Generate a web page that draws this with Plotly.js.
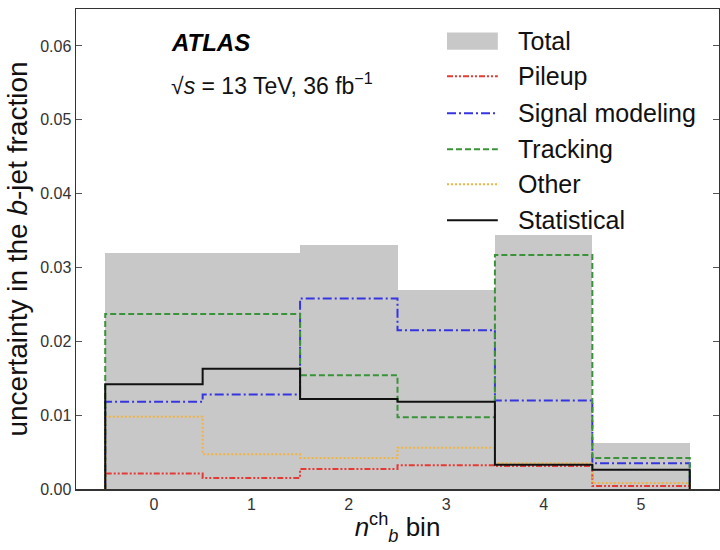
<!DOCTYPE html>
<html>
<head>
<meta charset="utf-8">
<script src="https://cdn.plot.ly/plotly-3.0.1.min.js"></script>
<style>html,body{margin:0;padding:0;background:#fff;}#chart{width:720px;height:550px;}</style>
</head>
<body>
<div id="chart"></div>
<script>
// ---- data ----
const bins = [0, 1, 2, 3, 4, 5];
const binLabels = ["0", "1", "2", "3", "4", "5"];
const total       = [0.0319, 0.0320, 0.0331, 0.0270, 0.0344, 0.0062];
const pileup      = [0.0021, 0.0015, 0.0027, 0.0032, 0.0031, 0.0004];
const signalModel = [0.0118, 0.0128, 0.0258, 0.0215, 0.0120, 0.0035];
const tracking    = [0.0237, 0.0237, 0.0154, 0.0097, 0.0317, 0.0042];
const other       = [0.0098, 0.0047, 0.0042, 0.0056, 0.0035, 0.0008];
const statistical = [0.0142, 0.0163, 0.0122, 0.0118, 0.0033, 0.0026];
const yTicks = [0, 0.01, 0.02, 0.03, 0.04, 0.05, 0.06];

const FONT = "Liberation Sans, Arial, Helvetica, sans-serif";

// step-histogram outline built from bin values
const edges = bins.map(b => b - 0.5).concat([bins[bins.length - 1] + 0.5]);
function stepXY(vals) {
  const x = [edges[0]], y = [0];
  for (let i = 0; i < vals.length; i++) { x.push(edges[i]); y.push(vals[i]); }
  x.push(edges[vals.length]); y.push(vals[vals.length - 1]);
  x.push(edges[vals.length]); y.push(0);
  return {x, y};
}

const series = [
  {name: "Pileup",          vals: pileup,      color: "#e23b36", dash: "6px,2px,2px,2px,2px,2px"},
  {name: "Signal modeling", vals: signalModel, color: "#3434e0", dash: "9px,3px,2px,3px"},
  {name: "Tracking",        vals: tracking,    color: "#3a923a", dash: "6px,3px"},
  {name: "Other",           vals: other,       color: "#f2b440", dash: "2px,2px"},
  {name: "Statistical",     vals: statistical, color: "#111111", dash: "solid"}
];

const traces = [{
  type: "bar", name: "Total", x: bins, y: total, width: 1,
  marker: {color: "#c8c8c8", line: {width: 0}}, showlegend: false, hoverinfo: "skip"
}];
series.forEach(s => {
  const st = stepXY(s.vals);
  traces.push({
    type: "scatter", mode: "lines", name: s.name, x: st.x, y: st.y,
    line: {shape: "hv", color: s.color, width: 2, dash: s.dash},
    showlegend: false, hoverinfo: "skip"
  });
});

// custom legend (matplotlib style: wide handles)
const legendNames = ["Total"].concat(series.map(s => s.name));
const legendY = [0.933, 0.860, 0.783, 0.708, 0.635, 0.560];
const hx0 = 0.577, hx1 = 0.656, tx = 0.684;
const shapes = [];
const annotations = [];
legendNames.forEach((nm, i) => {
  if (i === 0) {
    shapes.push({type: "rect", xref: "paper", yref: "paper", x0: hx0, x1: hx1,
      y0: legendY[i] - 0.018, y1: legendY[i] + 0.018, fillcolor: "#c8c8c8", line: {width: 0}});
  } else {
    const s = series[i - 1];
    shapes.push({type: "line", xref: "paper", yref: "paper", x0: hx0, x1: hx1,
      y0: legendY[i], y1: legendY[i], line: {color: s.color, width: 2, dash: s.dash}});
  }
  annotations.push({xref: "paper", yref: "paper", x: tx, y: legendY[i], xanchor: "left", yanchor: "middle",
    text: nm, showarrow: false, font: {family: FONT, size: 25, color: "#111"}});
});
annotations.push({xref: "paper", yref: "paper", x: 0.145, y: 0.931, xanchor: "left", yanchor: "middle",
  text: "<b><i>ATLAS</i></b>", showarrow: false, font: {family: FONT, size: 24, color: "#000"}});
annotations.push({xref: "paper", yref: "paper", x: 0.145, y: 0.843, xanchor: "left", yanchor: "middle",
  text: "√<i>s</i> = 13 TeV, 36 fb<sup>−1</sup>", showarrow: false, font: {family: FONT, size: 23, color: "#111"}});

const layout = {
  width: 720, height: 550,
  margin: {l: 76, r: 1, t: 9, b: 61},
  paper_bgcolor: "#fff", plot_bgcolor: "#fff",
  font: {family: FONT, color: "#222"},
  showlegend: false,
  bargap: 0,
  xaxis: {
    range: [-0.8, 5.8], tickvals: bins, ticktext: binLabels, ticks: "",
    showgrid: false, zeroline: false, showline: true, mirror: true,
    linecolor: "#333", linewidth: 1.5,
    tickfont: {family: FONT, size: 16, color: "#333"},
    title: {text: "<i>n</i><sup>ch</sup><sub><i>b</i></sub> bin", font: {family: FONT, size: 26, color: "#111"}, standoff: 6}
  },
  yaxis: {
    range: [0, 0.065], tickvals: yTicks, tickformat: ".2f", ticks: "inside", ticklen: 6,
    tickcolor: "#555", showgrid: false, zeroline: false, showline: true, mirror: "ticks",
    linecolor: "#333", linewidth: 1.5,
    tickfont: {family: FONT, size: 16, color: "#333"},
    title: {text: "uncertainty in the <i>b</i>-jet fraction", font: {family: FONT, size: 28, color: "#111"}, standoff: 4}
  },
  shapes: shapes,
  annotations: annotations
};

Plotly.newPlot("chart", traces, layout, {displayModeBar: false, staticPlot: true});
</script>
</body>
</html>
